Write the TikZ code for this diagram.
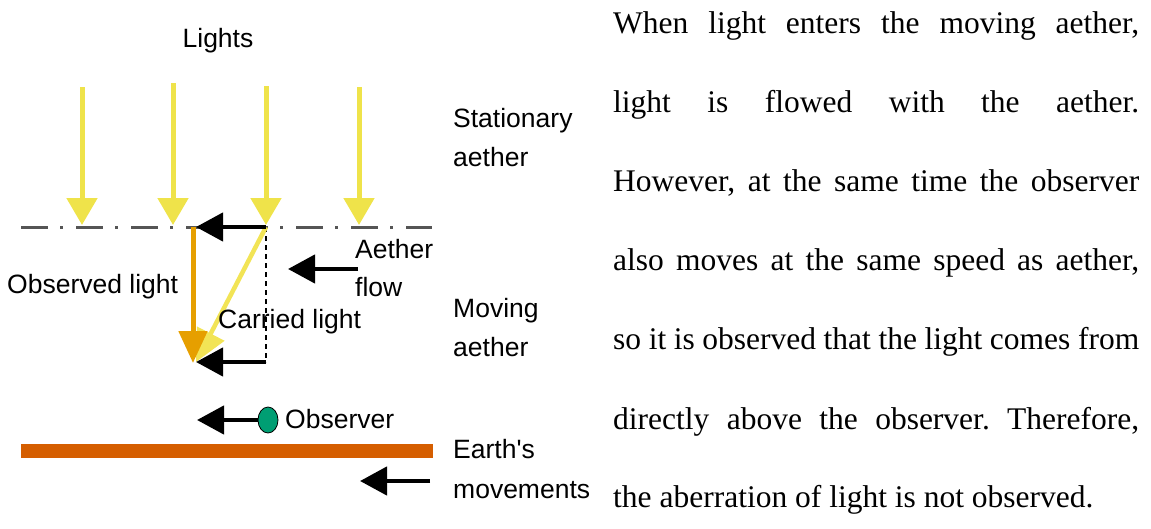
\documentclass[tikz,border=0pt]{standalone}
\usepackage{fontspec}
\setmainfont{Liberation Serif}
\setsansfont{Liberation Sans}[Ligatures=TeXOff]
\usetikzlibrary{arrows.meta,shapes.geometric}
\definecolor{yarrow}{HTML}{EFE34A}
\definecolor{ycarry}{HTML}{F2E456}
\definecolor{obsorange}{HTML}{E69F00}
\definecolor{earthcol}{HTML}{D55E00}
\definecolor{obsgreen}{HTML}{009E73}
\definecolor{axiscol}{HTML}{555555}
\frenchspacing
\begin{document}
\begin{tikzpicture}[x=1pt,y=-1pt,
  lbl/.style={anchor=base west,inner sep=0pt,font=\sffamily\fontsize{26.5}{30}\selectfont},
  para/.style={anchor=base west,inner sep=0pt,font=\rmfamily\fontsize{31.5}{36}\selectfont},
  lightarr/.style={draw=yarrow,line width=5pt,-{Triangle[length=27pt,width=30pt]}},
  blackarr/.style={draw=black,line width=4.5pt,-{Triangle[length=27pt,width=28pt]}},
  boundary/.style={draw=axiscol,line width=3pt,dash pattern=on 27pt off 12pt on 3pt off 13pt},
]
\useasboundingbox (0,0) rectangle (1151,528);

% coordinates
\coordinate (bl) at (21,227);
\coordinate (br) at (432,227);
\foreach \i/\x/\y in {1/82/87,2/173/83,3/266/86,4/359/87}{
  \coordinate (ls\i) at (\x,\y);
  \coordinate (le\i) at (\x,225);
}
\coordinate (top) at (266,227);
\coordinate (toptip) at (196,227);
\coordinate (obstop) at (193,227);
\coordinate (obstip) at (193,363);
\coordinate (cartip) at (196,362);
\coordinate (dashbot) at (266,362);
\coordinate (bottip) at (196,362);
\coordinate (afs) at (358,269);
\coordinate (aft) at (288,269);
\coordinate (obsarr) at (197,420);
\coordinate (ems) at (430,481);
\coordinate (emt) at (360,481);

% aether boundary
\draw[boundary] (bl) -- (br);

% incoming lights
\foreach \i in {1,2,3,4}{ \draw[lightarr] (ls\i) -- (le\i); }

% triangle of velocities
\draw[black,line width=2.8pt,dash pattern=on 5pt off 4pt] (top) -- (dashbot);
\draw[ycarry,line width=4.5pt,-{Triangle[length=32pt,width=30pt]}] (top) -- (cartip);
\draw[obsorange,line width=5pt,-{Triangle[length=32pt,width=28pt]}] (obstop) -- (obstip);
\draw[blackarr] (top) -- (toptip);
\draw[blackarr] (dashbot) -- (bottip);
\draw[blackarr] (afs) -- (aft);

% observer
\node[ellipse,draw=black,line width=0.8pt,fill=obsgreen,minimum width=20pt,minimum height=26pt,inner sep=0pt] (obs) at (268,420) {};
\draw[blackarr] (obs.west) -- (obsarr);

% earth
\fill[earthcol] (21,444) rectangle (433,458);
\draw[blackarr] (ems) -- (emt);

% labels
\node[lbl,anchor=base] (lights) at (218,47) {Lights};
\node[lbl] (stat1) at (453,127) {Stationary};
\node[lbl] (stat2) at (453,166) {aether};
\node[lbl] (af1) at (355,258) {Aether};
\node[lbl] (af2) at (355,296) {flow};
\node[lbl] (obslight) at (7,293) {Observed light};
\node[lbl] (carlight) at (218,328) {Carried light};
\node[lbl] (mov1) at (453,317) {Moving};
\node[lbl] (mov2) at (453,356) {aether};
\node[lbl] (observer) at (285,428) {Observer};
\node[lbl] (earth1) at (453,458) {Earth\textquotesingle s};
\node[lbl] (earth2) at (453,498) {movements};

% paragraph
\node[para] (p1) at (613,33) {\makebox[526pt][s]{When light enters the moving aether,}};
\node[para] (p2) at (613,112) {\makebox[526pt][s]{light is flowed with the aether.}};
\node[para] (p3) at (613,191) {\makebox[526pt][s]{However, at the same time the observer}};
\node[para] (p4) at (613,270) {\makebox[526pt][s]{also moves at the same speed as aether,}};
\node[para] (p5) at (613,349) {\makebox[526pt][s]{so it is observed that the light comes from}};
\node[para] (p6) at (613,429) {\makebox[526pt][s]{directly above the observer. Therefore,}};
\node[para] (p7) at (613,507) {the aberration of light is not observed.};
\end{tikzpicture}
\end{document}
